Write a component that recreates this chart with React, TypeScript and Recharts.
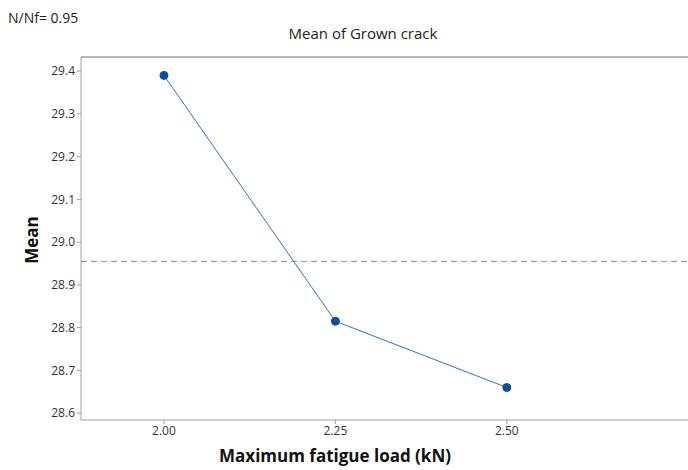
import { LineChart, Line, XAxis, YAxis, ReferenceLine } from "recharts";

const loads = [2.0, 2.25, 2.5];
const means = [29.39, 28.815, 28.66];
const grandMean = 28.955;
const xTicks = [2.0, 2.25, 2.5];
const yTicks = [28.6, 28.7, 28.8, 28.9, 29.0, 29.1, 29.2, 29.3, 29.4];

const rows = loads.map((load, i) => ({ load, mean: means[i] }));

const FONT = "'Open Sans', 'Noto Sans', sans-serif";
const AXIS = "#a0a0a0";
const X_DOMAIN: [number, number] = [1.879, 2.913];
const Y_DOMAIN: [number, number] = [28.584, 29.433];

export default function App() {
  return (
    <div
      style={{
        position: "fixed",
        left: 0,
        top: 0,
        width: 688,
        height: 470,
        overflow: "hidden",
        background: "#fff",
        fontFamily: FONT,
      }}
    >
      <div style={{ position: "absolute", left: 0, top: 0, width: 800, height: 470 }}>
        <LineChart
          width={800}
          height={470}
          data={rows}
          margin={{ top: 57, right: 10, bottom: 26, left: 0 }}
        >
          <XAxis
            dataKey="load"
            type="number"
            domain={X_DOMAIN}
            ticks={xTicks}
            allowDataOverflow
            tickFormatter={(v: number) => v.toFixed(2)}
            tick={{ fontSize: 12, fill: "#333", fontFamily: FONT }}
            tickSize={4}
            tickLine={{ stroke: AXIS }}
            axisLine={{ stroke: AXIS }}
            height={24}
          />
          <YAxis
            type="number"
            domain={Y_DOMAIN}
            ticks={yTicks}
            allowDataOverflow
            tickFormatter={(v: number) => v.toFixed(1)}
            tick={{ fontSize: 12, fill: "#333", fontFamily: FONT }}
            tickSize={4}
            tickLine={{ stroke: AXIS }}
            axisLine={{ stroke: AXIS }}
            width={81}
          />
          <ReferenceLine y={Y_DOMAIN[1]} stroke={AXIS} strokeWidth={1.5} />
          <ReferenceLine y={grandMean} stroke="#8a8a8a" strokeDasharray="6 4" />
          <Line
            dataKey="mean"
            stroke="#2e74bf"
            strokeWidth={1}
            dot={{ r: 4, fill: "#0b4f9c", stroke: "#0b4f9c", strokeWidth: 1 }}
            isAnimationActive={false}
          />
        </LineChart>
      </div>
      <div style={{ position: "absolute", left: 8, top: 8, fontSize: 14, color: "#222" }}>
        N/Nf= 0.95
      </div>
      <div
        style={{
          position: "absolute",
          left: 0,
          width: 726,
          top: 23,
          textAlign: "center",
          fontSize: 15,
          color: "#222",
        }}
      >
        Mean of Grown crack
      </div>
      <div
        style={{
          position: "absolute",
          left: 31,
          top: 240,
          transform: "translate(-50%, -50%) rotate(-90deg)",
          fontSize: 17,
          fontWeight: 700,
          color: "#111",
          whiteSpace: "nowrap",
        }}
      >
        Mean
      </div>
      <div
        style={{
          position: "absolute",
          left: 335,
          top: 455,
          transform: "translate(-50%, -50%)",
          fontSize: 17,
          fontWeight: 700,
          color: "#111",
          whiteSpace: "nowrap",
        }}
      >
        Maximum fatigue load (kN)
      </div>
    </div>
  );
}
